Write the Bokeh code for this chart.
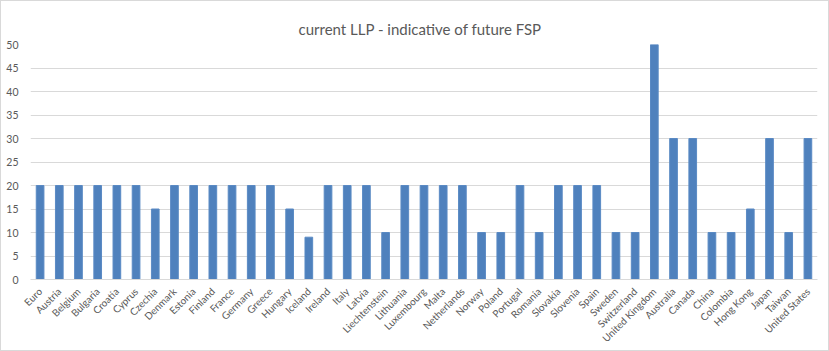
import math
from bokeh.plotting import figure
from bokeh.models import Range1d, FixedTicker, ColumnDataSource
from bokeh.embed import file_html
from bokeh.resources import INLINE

countries = ["Euro", "Austria", "Belgium", "Bulgaria", "Croatia", "Cyprus", "Czechia", "Denmark",
             "Estonia", "Finland", "France", "Germany", "Greece", "Hungary", "Iceland", "Ireland",
             "Italy", "Latvia", "Liechtenstein", "Lithuania", "Luxembourg", "Malta", "Netherlands",
             "Norway", "Poland", "Portugal", "Romania", "Slovakia", "Slovenia", "Spain", "Sweden",
             "Switzerland", "United Kingdom", "Australia", "Canada", "China", "Colombia",
             "Hong Kong", "Japan", "Taiwan", "United States"]
values = [20, 20, 20, 20, 20, 20, 15, 20,
          20, 20, 20, 20, 20, 15, 9, 20,
          20, 20, 10, 20, 20, 20, 20,
          10, 10, 20, 10, 20, 20, 20, 10,
          10, 50, 30, 30, 10, 10,
          15, 30, 10, 30]
y_ticks = [0, 5, 10, 15, 20, 25, 30, 35, 40, 45, 50]
title = "current LLP - indicative of future FSP"

FONT = "Lato"
GRAY = "#595959"

source = ColumnDataSource(data=dict(country=countries, value=values))

p = figure(x_range=countries, width=829, height=351, output_backend="svg",
           toolbar_location=None, title=title,
           min_border_left=29, min_border_right=13, min_border_top=43, min_border_bottom=73)
p.y_range = Range1d(0, 50)

p.vbar(x="country", top="value", width=0.4, source=source,
       fill_color="#4f81bd", line_color="#5a8ac4", line_width=1)

p.title.align = "left"
p.title.text_font = FONT
p.title.text_font_size = "15px"
p.title.text_font_style = "normal"
p.title.text_color = GRAY
p.title.offset = 268
p.title.standoff = 13

p.yaxis.ticker = FixedTicker(ticks=y_ticks)
p.yaxis.axis_line_color = None
p.yaxis.major_tick_line_color = None
p.yaxis.minor_tick_line_color = None
p.yaxis.major_label_text_font = FONT
p.yaxis.major_label_text_font_size = "10.5px"
p.yaxis.major_label_text_color = GRAY
p.yaxis.major_label_standoff = 6

p.xaxis.axis_line_color = "#d9d9d9"
p.xaxis.major_tick_line_color = None
p.xaxis.minor_tick_line_color = None
p.xaxis.major_label_orientation = math.pi / 4
p.xaxis.major_label_text_font = FONT
p.xaxis.major_label_text_font_size = "10px"
p.xaxis.major_label_text_color = GRAY
p.xaxis.major_label_standoff = 4

p.xgrid.grid_line_color = None
p.ygrid.grid_line_color = "#d9d9d9"
p.ygrid.grid_line_width = 1
p.outline_line_color = None
p.x_range.range_padding = 0

p.styles = {"box-sizing": "border-box", "border": "1px solid #d9d9d9"}

open("out.html", "w").write(file_html(p, INLINE))
